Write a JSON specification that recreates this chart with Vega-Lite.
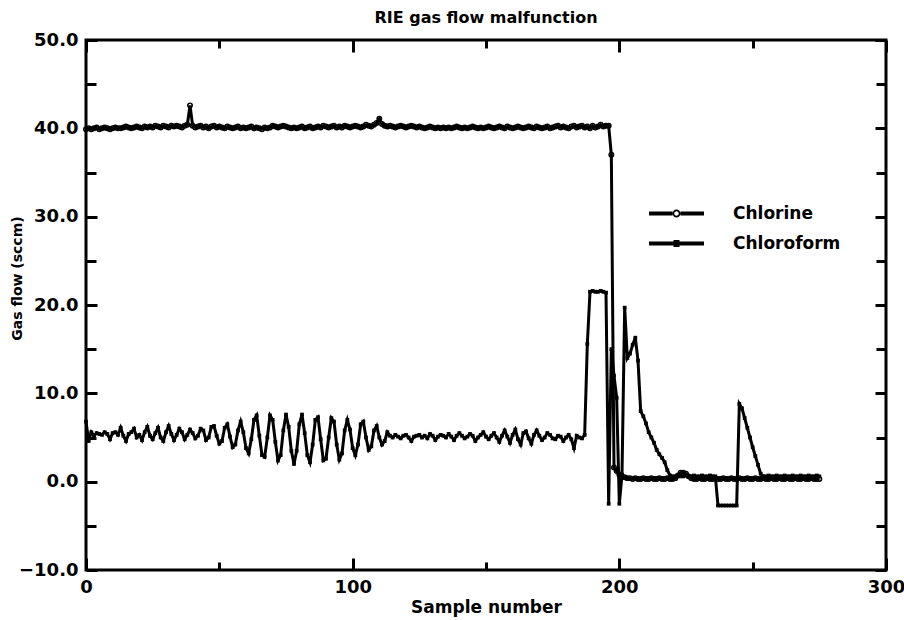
{
"$schema": "https://vega.github.io/schema/vega-lite/v6.json",
"width": 800, "height": 530,
"autosize": {"type": "none"},
"padding": {"left": 86, "top": 40, "right": 18, "bottom": 50},
"background": "white",
"title": {"text": "RIE gas flow malfunction", "font": "DejaVu Sans", "fontWeight": "bold", "fontSize": 16, "color": "black", "anchor": "middle", "offset": 5},
"config": {
  "view": {"stroke": "black", "strokeWidth": 3},
  "axis": {"domain": false, "grid": false, "tickColor": "black", "tickWidth": 3, "labelFont": "DejaVu Sans", "labelFontWeight": "bold", "labelFontSize": 18, "labelColor": "black", "labelFlush": false, "labelOverlap": false, "titleFont": "DejaVu Sans", "titleFontWeight": "bold", "titleColor": "black"}
},
"datasets": {
"chlorine": [
{"x":0,"y":39.9},{"x":1,"y":40.0},{"x":2,"y":39.9},{"x":3,"y":40.0},{"x":4,"y":40.1},{"x":5,"y":39.9},{"x":6,"y":40.0},{"x":7,"y":40.1},{"x":8,"y":40.0},{"x":9,"y":39.9},
{"x":10,"y":40.0},{"x":11,"y":40.1},{"x":12,"y":40.0},{"x":13,"y":40.0},{"x":14,"y":40.1},{"x":15,"y":40.2},{"x":16,"y":40.1},{"x":17,"y":40.0},{"x":18,"y":40.1},{"x":19,"y":40.2},
{"x":20,"y":40.1},{"x":21,"y":40.0},{"x":22,"y":40.2},{"x":23,"y":40.1},{"x":24,"y":40.2},{"x":25,"y":40.1},{"x":26,"y":40.3},{"x":27,"y":40.2},{"x":28,"y":40.1},{"x":29,"y":40.3},
{"x":30,"y":40.2},{"x":31,"y":40.1},{"x":32,"y":40.3},{"x":33,"y":40.2},{"x":34,"y":40.3},{"x":35,"y":40.2},{"x":36,"y":40.1},{"x":37,"y":40.3},{"x":38,"y":40.4},{"x":39,"y":42.6},
{"x":40,"y":40.3},{"x":41,"y":40.1},{"x":42,"y":40.2},{"x":43,"y":40.3},{"x":44,"y":40.1},{"x":45,"y":40.2},{"x":46,"y":40.0},{"x":47,"y":40.2},{"x":48,"y":40.3},{"x":49,"y":40.1},
{"x":50,"y":40.2},{"x":51,"y":40.1},{"x":52,"y":40.0},{"x":53,"y":40.2},{"x":54,"y":40.1},{"x":55,"y":40.0},{"x":56,"y":40.1},{"x":57,"y":40.2},{"x":58,"y":40.0},{"x":59,"y":40.1},
{"x":60,"y":40.0},{"x":61,"y":40.1},{"x":62,"y":40.2},{"x":63,"y":40.0},{"x":64,"y":40.1},{"x":65,"y":40.0},{"x":66,"y":39.9},{"x":67,"y":40.1},{"x":68,"y":40.0},{"x":69,"y":40.1},
{"x":70,"y":40.3},{"x":71,"y":40.2},{"x":72,"y":40.1},{"x":73,"y":40.2},{"x":74,"y":40.3},{"x":75,"y":40.2},{"x":76,"y":40.1},{"x":77,"y":40.0},{"x":78,"y":40.1},{"x":79,"y":40.0},
{"x":80,"y":40.1},{"x":81,"y":40.2},{"x":82,"y":40.0},{"x":83,"y":40.1},{"x":84,"y":40.2},{"x":85,"y":40.0},{"x":86,"y":40.1},{"x":87,"y":40.2},{"x":88,"y":40.1},{"x":89,"y":40.3},
{"x":90,"y":40.2},{"x":91,"y":40.1},{"x":92,"y":40.2},{"x":93,"y":40.3},{"x":94,"y":40.1},{"x":95,"y":40.2},{"x":96,"y":40.1},{"x":97,"y":40.3},{"x":98,"y":40.2},{"x":99,"y":40.1},
{"x":100,"y":40.2},{"x":101,"y":40.3},{"x":102,"y":40.2},{"x":103,"y":40.1},{"x":104,"y":40.2},{"x":105,"y":40.4},{"x":106,"y":40.3},{"x":107,"y":40.2},{"x":108,"y":40.4},{"x":109,"y":40.6},
{"x":110,"y":41.1},{"x":111,"y":40.5},{"x":112,"y":40.3},{"x":113,"y":40.2},{"x":114,"y":40.3},{"x":115,"y":40.2},{"x":116,"y":40.1},{"x":117,"y":40.2},{"x":118,"y":40.3},{"x":119,"y":40.2},
{"x":120,"y":40.1},{"x":121,"y":40.2},{"x":122,"y":40.3},{"x":123,"y":40.2},{"x":124,"y":40.1},{"x":125,"y":40.2},{"x":126,"y":40.1},{"x":127,"y":40.0},{"x":128,"y":40.1},{"x":129,"y":40.2},
{"x":130,"y":40.1},{"x":131,"y":40.0},{"x":132,"y":40.1},{"x":133,"y":40.0},{"x":134,"y":40.1},{"x":135,"y":40.0},{"x":136,"y":40.1},{"x":137,"y":40.0},{"x":138,"y":40.1},{"x":139,"y":40.2},
{"x":140,"y":40.1},{"x":141,"y":40.0},{"x":142,"y":40.1},{"x":143,"y":40.0},{"x":144,"y":40.1},{"x":145,"y":40.2},{"x":146,"y":40.1},{"x":147,"y":40.0},{"x":148,"y":40.1},{"x":149,"y":40.0},
{"x":150,"y":40.1},{"x":151,"y":40.2},{"x":152,"y":40.1},{"x":153,"y":40.0},{"x":154,"y":40.1},{"x":155,"y":40.2},{"x":156,"y":40.1},{"x":157,"y":40.0},{"x":158,"y":40.2},{"x":159,"y":40.1},
{"x":160,"y":40.0},{"x":161,"y":40.1},{"x":162,"y":40.2},{"x":163,"y":40.1},{"x":164,"y":40.0},{"x":165,"y":40.1},{"x":166,"y":40.2},{"x":167,"y":40.1},{"x":168,"y":40.0},{"x":169,"y":40.2},
{"x":170,"y":40.1},{"x":171,"y":40.0},{"x":172,"y":40.1},{"x":173,"y":40.2},{"x":174,"y":40.0},{"x":175,"y":40.1},{"x":176,"y":40.2},{"x":177,"y":40.3},{"x":178,"y":40.1},{"x":179,"y":40.2},
{"x":180,"y":40.1},{"x":181,"y":40.0},{"x":182,"y":40.2},{"x":183,"y":40.3},{"x":184,"y":40.1},{"x":185,"y":40.2},{"x":186,"y":40.3},{"x":187,"y":40.1},{"x":188,"y":40.2},{"x":189,"y":40.0},
{"x":190,"y":40.3},{"x":191,"y":40.1},{"x":192,"y":40.2},{"x":193,"y":40.4},{"x":194,"y":40.2},{"x":195,"y":40.3},{"x":196,"y":40.3},{"x":197,"y":37.0},{"x":198,"y":1.6},{"x":199,"y":1.2},
{"x":200,"y":0.8},{"x":201,"y":0.6},{"x":202,"y":0.5},{"x":203,"y":0.4},{"x":204,"y":0.4},{"x":205,"y":0.3},{"x":206,"y":0.4},{"x":207,"y":0.3},{"x":208,"y":0.3},{"x":209,"y":0.4},
{"x":210,"y":0.3},{"x":211,"y":0.3},{"x":212,"y":0.4},{"x":213,"y":0.3},{"x":214,"y":0.3},{"x":215,"y":0.4},{"x":216,"y":0.3},{"x":217,"y":0.3},{"x":218,"y":0.4},{"x":219,"y":0.3},
{"x":220,"y":0.3},{"x":221,"y":0.4},{"x":222,"y":0.7},{"x":223,"y":1.0},{"x":224,"y":1.0},{"x":225,"y":0.9},{"x":226,"y":0.6},{"x":227,"y":0.4},{"x":228,"y":0.3},{"x":229,"y":0.3},
{"x":230,"y":0.4},{"x":231,"y":0.3},{"x":232,"y":0.3},{"x":233,"y":0.4},{"x":234,"y":0.3},{"x":235,"y":0.3},{"x":236,"y":0.4},{"x":237,"y":0.3},{"x":238,"y":0.3},{"x":239,"y":0.4},
{"x":240,"y":0.3},{"x":241,"y":0.3},{"x":242,"y":0.4},{"x":243,"y":0.3},{"x":244,"y":0.3},{"x":245,"y":0.4},{"x":246,"y":0.3},{"x":247,"y":0.3},{"x":248,"y":0.4},{"x":249,"y":0.3},
{"x":250,"y":0.3},{"x":251,"y":0.4},{"x":252,"y":0.3},{"x":253,"y":0.3},{"x":254,"y":0.4},{"x":255,"y":0.3},{"x":256,"y":0.3},{"x":257,"y":0.4},{"x":258,"y":0.3},{"x":259,"y":0.3},
{"x":260,"y":0.4},{"x":261,"y":0.3},{"x":262,"y":0.3},{"x":263,"y":0.4},{"x":264,"y":0.3},{"x":265,"y":0.3},{"x":266,"y":0.4},{"x":267,"y":0.3},{"x":268,"y":0.3},{"x":269,"y":0.4},
{"x":270,"y":0.3},{"x":271,"y":0.3},{"x":272,"y":0.4},{"x":273,"y":0.3},{"x":274,"y":0.3},{"x":275,"y":0.3}
],
"chloroform": [
{"x":0,"y":6.8},{"x":1,"y":4.6},{"x":2,"y":5.6},{"x":3,"y":5.2},{"x":4,"y":5.5},{"x":5,"y":5.4},{"x":6,"y":5.3},{"x":7,"y":5.6},{"x":8,"y":5.4},{"x":9,"y":4.8},
{"x":10,"y":5.5},{"x":11,"y":5.6},{"x":12,"y":5.3},{"x":13,"y":6.1},{"x":14,"y":5.2},{"x":15,"y":4.6},{"x":16,"y":5.4},{"x":17,"y":5.6},{"x":18,"y":6.0},{"x":19,"y":5.0},
{"x":20,"y":5.3},{"x":21,"y":4.7},{"x":22,"y":5.6},{"x":23,"y":6.2},{"x":24,"y":5.2},{"x":25,"y":4.8},{"x":26,"y":5.5},{"x":27,"y":6.1},{"x":28,"y":5.0},{"x":29,"y":4.6},
{"x":30,"y":5.6},{"x":31,"y":6.3},{"x":32,"y":5.4},{"x":33,"y":4.7},{"x":34,"y":5.3},{"x":35,"y":6.0},{"x":36,"y":5.6},{"x":37,"y":4.8},{"x":38,"y":5.3},{"x":39,"y":5.9},
{"x":40,"y":5.5},{"x":41,"y":4.9},{"x":42,"y":5.2},{"x":43,"y":6.0},{"x":44,"y":5.8},{"x":45,"y":4.7},{"x":46,"y":5.0},{"x":47,"y":6.2},{"x":48,"y":6.3},{"x":49,"y":5.2},
{"x":50,"y":4.3},{"x":51,"y":4.6},{"x":52,"y":6.1},{"x":53,"y":6.5},{"x":54,"y":5.1},{"x":55,"y":3.9},{"x":56,"y":4.2},{"x":57,"y":5.8},{"x":58,"y":6.8},{"x":59,"y":5.6},
{"x":60,"y":3.8},{"x":61,"y":3.2},{"x":62,"y":4.8},{"x":63,"y":7.0},{"x":64,"y":7.5},{"x":65,"y":5.2},{"x":66,"y":3.0},{"x":67,"y":2.8},{"x":68,"y":5.0},{"x":69,"y":7.5},
{"x":70,"y":7.0},{"x":71,"y":4.5},{"x":72,"y":2.4},{"x":73,"y":3.0},{"x":74,"y":5.8},{"x":75,"y":7.6},{"x":76,"y":6.2},{"x":77,"y":3.5},{"x":78,"y":2.0},{"x":79,"y":3.5},
{"x":80,"y":6.5},{"x":81,"y":7.6},{"x":82,"y":5.5},{"x":83,"y":3.0},{"x":84,"y":2.2},{"x":85,"y":4.2},{"x":86,"y":7.0},{"x":87,"y":7.3},{"x":88,"y":4.8},{"x":89,"y":2.4},
{"x":90,"y":2.6},{"x":91,"y":5.0},{"x":92,"y":7.2},{"x":93,"y":6.8},{"x":94,"y":4.2},{"x":95,"y":2.5},{"x":96,"y":3.2},{"x":97,"y":5.8},{"x":98,"y":7.0},{"x":99,"y":5.9},
{"x":100,"y":3.8},{"x":101,"y":3.0},{"x":102,"y":4.2},{"x":103,"y":6.5},{"x":104,"y":6.8},{"x":105,"y":5.0},{"x":106,"y":3.6},{"x":107,"y":4.0},{"x":108,"y":5.8},{"x":109,"y":6.3},
{"x":110,"y":5.0},{"x":111,"y":4.2},{"x":112,"y":4.6},{"x":113,"y":5.6},{"x":114,"y":5.2},{"x":115,"y":5.0},{"x":116,"y":5.3},{"x":117,"y":5.1},{"x":118,"y":4.9},{"x":119,"y":5.2},
{"x":120,"y":5.3},{"x":121,"y":5.0},{"x":122,"y":4.6},{"x":123,"y":5.1},{"x":124,"y":5.2},{"x":125,"y":5.3},{"x":126,"y":5.0},{"x":127,"y":5.2},{"x":128,"y":4.9},{"x":129,"y":5.4},
{"x":130,"y":5.2},{"x":131,"y":4.7},{"x":132,"y":5.1},{"x":133,"y":5.3},{"x":134,"y":5.2},{"x":135,"y":5.0},{"x":136,"y":5.4},{"x":137,"y":5.1},{"x":138,"y":4.7},{"x":139,"y":5.2},
{"x":140,"y":5.5},{"x":141,"y":5.2},{"x":142,"y":4.9},{"x":143,"y":5.1},{"x":144,"y":5.4},{"x":145,"y":5.2},{"x":146,"y":4.6},{"x":147,"y":5.0},{"x":148,"y":5.3},{"x":149,"y":5.6},
{"x":150,"y":5.1},{"x":151,"y":4.8},{"x":152,"y":5.2},{"x":153,"y":5.5},{"x":154,"y":5.0},{"x":155,"y":4.5},{"x":156,"y":5.2},{"x":157,"y":5.8},{"x":158,"y":5.1},{"x":159,"y":4.4},
{"x":160,"y":5.3},{"x":161,"y":5.9},{"x":162,"y":4.8},{"x":163,"y":4.2},{"x":164,"y":5.5},{"x":165,"y":5.7},{"x":166,"y":4.9},{"x":167,"y":4.3},{"x":168,"y":5.3},{"x":169,"y":5.8},
{"x":170,"y":5.2},{"x":171,"y":4.7},{"x":172,"y":5.0},{"x":173,"y":5.5},{"x":174,"y":5.3},{"x":175,"y":4.9},{"x":176,"y":4.8},{"x":177,"y":5.2},{"x":178,"y":5.1},{"x":179,"y":4.6},
{"x":180,"y":5.0},{"x":181,"y":5.3},{"x":182,"y":4.8},{"x":183,"y":3.8},{"x":184,"y":5.2},{"x":185,"y":5.0},{"x":186,"y":4.9},{"x":187,"y":5.3},{"x":188,"y":15.6},{"x":189,"y":21.5},
{"x":190,"y":21.6},{"x":191,"y":21.5},{"x":192,"y":21.5},{"x":193,"y":21.6},{"x":194,"y":21.5},{"x":195,"y":21.4},{"x":196,"y":-2.5},{"x":197,"y":15.0},{"x":198,"y":12.0},{"x":199,"y":9.5},
{"x":200,"y":-2.5},{"x":201,"y":0.8},{"x":202,"y":19.7},{"x":203,"y":14.0},{"x":204,"y":14.5},{"x":205,"y":15.5},{"x":206,"y":16.3},{"x":207,"y":13.7},{"x":208,"y":8.0},{"x":209,"y":7.4},
{"x":210,"y":6.6},{"x":211,"y":5.6},{"x":212,"y":5.0},{"x":213,"y":4.4},{"x":214,"y":3.6},{"x":215,"y":3.1},{"x":216,"y":2.7},{"x":217,"y":2.2},{"x":218,"y":1.3},{"x":219,"y":0.7},
{"x":220,"y":0.6},{"x":221,"y":0.6},{"x":222,"y":0.7},{"x":223,"y":0.6},{"x":224,"y":0.6},{"x":225,"y":0.7},{"x":226,"y":0.6},{"x":227,"y":0.6},{"x":228,"y":0.7},{"x":229,"y":0.6},
{"x":230,"y":0.6},{"x":231,"y":0.7},{"x":232,"y":0.6},{"x":233,"y":0.6},{"x":234,"y":0.7},{"x":235,"y":0.6},{"x":236,"y":0.6},{"x":237,"y":-2.7},{"x":238,"y":-2.7},{"x":239,"y":-2.7},
{"x":240,"y":-2.7},{"x":241,"y":-2.7},{"x":242,"y":-2.7},{"x":243,"y":-2.7},{"x":244,"y":-2.7},{"x":245,"y":8.8},{"x":246,"y":8.3},{"x":247,"y":7.2},{"x":248,"y":6.1},{"x":249,"y":5.0},
{"x":250,"y":3.9},{"x":251,"y":2.9},{"x":252,"y":1.9},{"x":253,"y":0.9},{"x":254,"y":0.6},{"x":255,"y":0.6},{"x":256,"y":0.7},{"x":257,"y":0.6},{"x":258,"y":0.6},{"x":259,"y":0.7},
{"x":260,"y":0.6},{"x":261,"y":0.6},{"x":262,"y":0.7},{"x":263,"y":0.6},{"x":264,"y":0.6},{"x":265,"y":0.7},{"x":266,"y":0.6},{"x":267,"y":0.6},{"x":268,"y":0.7},{"x":269,"y":0.6},
{"x":270,"y":0.6},{"x":271,"y":0.7},{"x":272,"y":0.6},{"x":273,"y":0.6},{"x":274,"y":0.7},{"x":275,"y":0.6}
]
},
"layer": [
  {
    "data": {"name": "chlorine"},
    "mark": {"type": "line", "color": "black", "strokeWidth": 3},
    "encoding": {
      "x": {"field": "x", "type": "quantitative", "scale": {"domain": [0, 300], "nice": false, "zero": false},
            "axis": {"orient": "bottom", "values": [0, 100, 200, 300], "format": "d", "tickSize": -12, "labelPadding": 20, "title": "Sample number", "titleFontSize": 17, "titlePadding": 3}},
      "y": {"field": "y", "type": "quantitative", "scale": {"domain": [-10, 50], "nice": false, "zero": false},
            "axis": {"orient": "left", "values": [-10, 0, 10, 20, 30, 40, 50], "format": ".1f", "tickSize": -11, "labelPadding": 19, "title": "Gas flow (sccm)", "titleFontSize": 14, "titleX": -62, "titleY": 238}}
    }
  },
  {
    "data": {"name": "chloroform"},
    "mark": {"type": "line", "color": "black", "strokeWidth": 3},
    "encoding": {
      "x": {"field": "x", "type": "quantitative", "scale": {"domain": [0, 300], "nice": false, "zero": false},
            "axis": {"orient": "bottom", "values": [50, 150, 250], "tickSize": -8, "labels": false, "title": null}},
      "y": {"field": "y", "type": "quantitative", "scale": {"domain": [-10, 50], "nice": false, "zero": false},
            "axis": {"orient": "left", "values": [-5, 5, 15, 25, 35, 45], "tickSize": -10, "labels": false, "title": null}}
    }
  },
  {
    "data": {"name": "chlorine"},
    "mark": {"type": "point", "shape": "circle", "filled": false, "color": "black", "size": 20, "strokeWidth": 1.5, "opacity": 1},
    "encoding": {
      "x": {"field": "x", "type": "quantitative", "scale": {"domain": [0, 300], "nice": false, "zero": false},
            "axis": {"orient": "top", "values": [0, 100, 200, 300], "tickSize": -12, "labels": false, "title": null}},
      "y": {"field": "y", "type": "quantitative", "scale": {"domain": [-10, 50], "nice": false, "zero": false},
            "axis": {"orient": "right", "values": [-10, 0, 10, 20, 30, 40, 50], "tickSize": -11, "labels": false, "title": null}}
    }
  },
  {
    "data": {"name": "chloroform"},
    "mark": {"type": "point", "shape": "square", "filled": true, "color": "black", "size": 14, "opacity": 1},
    "encoding": {
      "x": {"field": "x", "type": "quantitative", "scale": {"domain": [0, 300], "nice": false, "zero": false},
            "axis": {"orient": "top", "values": [50, 150, 250], "tickSize": -8, "labels": false, "title": null}},
      "y": {"field": "y", "type": "quantitative", "scale": {"domain": [-10, 50], "nice": false, "zero": false},
            "axis": {"orient": "right", "values": [-5, 5, 15, 25, 35, 45], "tickSize": -10, "labels": false, "title": null}}
    }
  },
  {
    "data": {"values": []},
    "mark": {"type": "point", "filled": true, "color": "black", "opacity": 1},
    "encoding": {
      "shape": {"field": "series", "type": "nominal",
        "scale": {"domain": ["Chlorine", "Chloroform"],
                  "range": ["M-5.5,-0.4H-0.8V0.4H-5.5ZM0.8,-0.4H5.5V0.4H0.8ZM0.8,0A0.8,0.8,0,1,1,-0.8,0A0.8,0.8,0,1,1,0.8,0ZM0.45,0A0.45,0.45,0,1,0,-0.45,0A0.45,0.45,0,1,0,0.45,0Z",
                            "M-5.5,-0.4H5.5V0.4H-5.5ZM-0.6,-0.7H0.6V0.7H-0.6Z"]},
        "legend": {"orient": "none", "legendX": 582, "legendY": 165, "title": null, "symbolSize": 100, "symbolFillColor": "black", "symbolStrokeColor": "black", "symbolStrokeWidth": 0, "symbolOpacity": 1, "labelFont": "DejaVu Sans", "labelFontWeight": "bold", "labelFontSize": 17, "labelColor": "black", "labelOffset": 48, "rowPadding": 12, "padding": 0}}
    }
  }
],
"resolve": {"axis": {"x": "independent", "y": "independent"}}
}
